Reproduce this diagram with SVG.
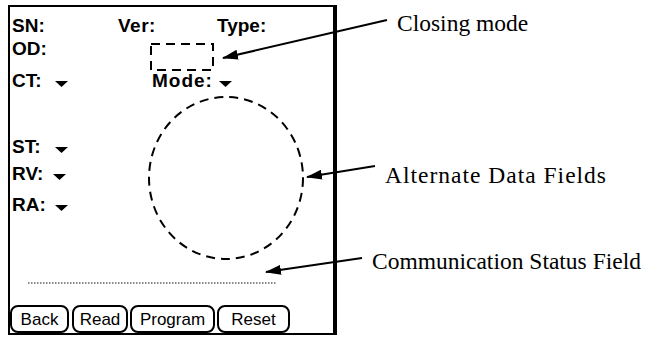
<svg xmlns="http://www.w3.org/2000/svg" width="648" height="337" viewBox="0 0 648 337">
<style>
.lbl{font-family:"Liberation Sans","DejaVu Sans",sans-serif;font-weight:bold;font-size:19px;fill:#000}
.btn{font-family:"Liberation Sans","DejaVu Sans",sans-serif;font-size:17px;fill:#000}
.cap{font-family:"Liberation Serif","Times New Roman",serif;font-size:23.5px;fill:#000}
.dash{fill:none;stroke:#000;stroke-width:2;stroke-dasharray:9 6}
.conn{stroke:#000;stroke-width:2;fill:none}
.bt{fill:#fff;stroke:#000;stroke-width:2}
</style>
<defs>
<marker id="ah" viewBox="0 0 16 10" refX="15" refY="5" markerWidth="16" markerHeight="10" markerUnits="userSpaceOnUse" orient="auto">
<path d="M0,0 L16,5 L0,10 Z" fill="#000"/>
</marker>
<path id="tri" d="M0,0 L13,0 L6.5,6 Z" fill="#000"/>
</defs>
<rect width="648" height="337" fill="#fff"/>
<g id="screen">
<rect x="9" y="6" width="325" height="328" fill="none" stroke="#000" stroke-width="2"/>
<line x1="335" y1="5" x2="335" y2="335" stroke="#000" stroke-width="4"/>
</g>
<g id="fields">
<text class="lbl" x="12" y="32">SN:</text>
<text class="lbl" x="118" y="32" letter-spacing="0.5">Ver:</text>
<text class="lbl" x="217" y="32">Type:</text>
<text class="lbl" x="12" y="55">OD:</text>
<text class="lbl" x="12" y="87">CT:</text>
<use href="#tri" x="55" y="81"/>
<text class="lbl" x="152" y="87" letter-spacing="1">Mode:</text>
<use href="#tri" x="219" y="81"/>
<text class="lbl" x="12" y="153">ST:</text>
<use href="#tri" x="55" y="147"/>
<text class="lbl" x="12" y="180">RV:</text>
<use href="#tri" x="53" y="174"/>
<text class="lbl" x="12" y="211">RA:</text>
<use href="#tri" x="55" y="205"/>
</g>
<g id="closing-mode-box"><rect class="dash" x="151" y="44" width="62" height="26" stroke-dasharray="7 6"/></g>
<g id="alt-data-circle"><ellipse class="dash" cx="226" cy="178" rx="77" ry="81" stroke-dasharray="12 7"/></g>
<g id="status-field"><line x1="28" y1="283" x2="276" y2="283" stroke="#888" stroke-width="2" stroke-dasharray="1.5 1.5"/></g>
<g id="buttons">
<rect class="bt" x="11" y="306" width="57" height="26" rx="7"/><text class="btn" x="39.5" y="325" text-anchor="middle">Back</text>
<rect class="bt" x="73" y="306" width="54" height="26" rx="7"/><text class="btn" x="100" y="325" text-anchor="middle">Read</text>
<rect class="bt" x="131" y="306" width="83" height="26" rx="7"/><text class="btn" x="172.5" y="325" text-anchor="middle">Program</text>
<rect class="bt" x="218" y="306" width="71" height="26" rx="7"/><text class="btn" x="253.5" y="325" text-anchor="middle">Reset</text>
</g>
<g id="connectors">
<line class="conn" x1="387" y1="20" x2="223" y2="58" marker-end="url(#ah)"/>
<line class="conn" x1="375" y1="166" x2="307" y2="177" marker-end="url(#ah)"/>
<line class="conn" x1="362" y1="258" x2="266" y2="272" marker-end="url(#ah)"/>
</g>
<g id="captions">
<text class="cap" x="397" y="31">Closing mode</text>
<text class="cap" x="385" y="183" font-size="24" letter-spacing="1">Alternate Data Fields</text>
<text class="cap" x="372" y="269" font-size="24">Communication Status Field</text>
</g>
</svg>
